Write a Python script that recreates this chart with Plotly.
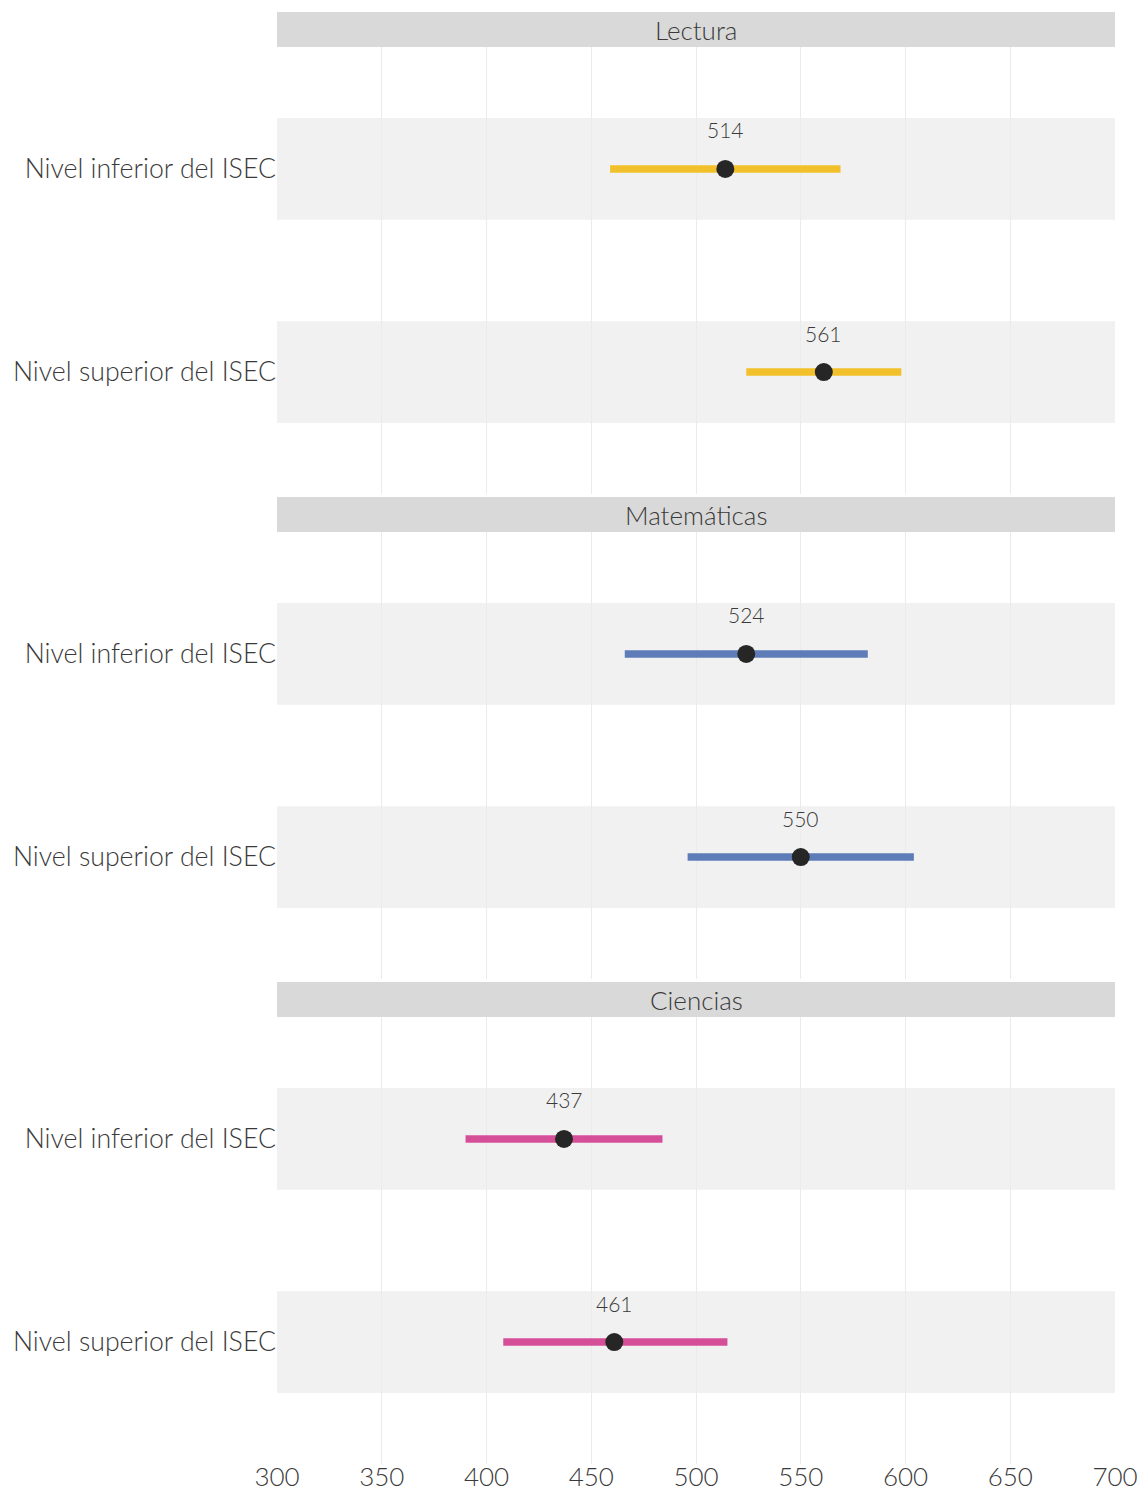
import plotly.graph_objects as go

# Scores by subject and socio-economic level (ISEC), with interval bounds
subjects = ["Lectura", "Matemáticas", "Ciencias"]
levels = ["Nivel inferior del ISEC", "Nivel superior del ISEC"]
means = [[514, 561], [524, 550], [437, 461]]
lows = [[459, 524], [466, 496], [390, 408]]
highs = [[569, 598], [582, 604], [484, 515]]
colors = ["#F1C02A", "#5E7CB7", "#D44F98"]

x_ticks = [300, 350, 400, 450, 500, 550, 600, 650, 700]

W, H = 1137, 1492
M_T, M_B, M_L, M_R = 12, 28, 277, 22
plot_h = H - M_T - M_B

def py(px):
    # pixel row (from top) -> paper fraction
    return (H - M_B - px) / plot_h

# panel rows (strip top, panel top, panel bottom) in pixels
panels = [(12, 47, 494), (497, 532, 979), (982, 1017, 1464)]

FONT = "Lato"
TXT = "#3a3a3a"

fig = go.Figure()
shapes = []
annotations = []

for i, subj in enumerate(subjects):
    ax = "" if i == 0 else str(i + 1)
    xref, yref = "x" + ax, "y" + ax
    strip_top, p_top, p_bot = panels[i]

    # background bands behind each category
    for j in range(len(levels)):
        shapes.append(dict(type="rect", xref=xref + " domain", yref=yref,
                           x0=0, x1=1, y0=j - 0.25, y1=j + 0.25,
                           fillcolor="#F1F1F1", line_width=0, layer="below"))

    # interval lines
    for j, lev in enumerate(levels):
        fig.add_trace(go.Scatter(
            x=[lows[i][j], highs[i][j]], y=[j, j], mode="lines",
            line=dict(color=colors[i], width=7.5),
            xaxis=xref, yaxis=yref, showlegend=False, hoverinfo="skip"))

    # point estimates
    fig.add_trace(go.Scatter(
        x=means[i], y=list(range(len(levels))), mode="markers",
        marker=dict(color="#262626", size=18),
        xaxis=xref, yaxis=yref, showlegend=False))

    # value labels above the points
    for j, v in enumerate(means[i]):
        annotations.append(dict(text=str(v), xref=xref, yref=yref, x=v, y=j,
                                yshift=39, showarrow=False,
                                xanchor="center", yanchor="middle",
                                font=dict(family=FONT, size=21, color=TXT, weight=300)))

    # facet strip
    shapes.append(dict(type="rect", xref="paper", yref="paper",
                       x0=0, x1=1, y0=py(p_top), y1=py(strip_top),
                       fillcolor="#D9D9D9", line_width=0))
    annotations.append(dict(text=subj, xref="paper", yref="paper",
                            x=0.5, y=(py(p_top) + py(strip_top)) / 2,
                            showarrow=False, xanchor="center", yanchor="middle",
                            font=dict(family=FONT, size=26, color=TXT, weight=300)))

    fig.update_layout(**{
        "xaxis" + ax: dict(
            domain=[0, 1], range=[300, 700], tickvals=x_ticks,
            showticklabels=(i == 2), anchor=yref, automargin=False,
            ticklabeloverflow="allow", ticklabelstandoff=-5,
            showgrid=True, gridcolor="#EBEBEB", gridwidth=1,
            zeroline=False, showline=False, ticks="",
            tickfont=dict(family=FONT, size=26, color=TXT, weight=300),
            matches=None if i == 0 else "x"),
        "yaxis" + ax: dict(
            domain=[py(p_bot), py(p_top)], range=[1.6, -0.6],
            tickvals=list(range(len(levels))), ticktext=levels,
            showgrid=False, zeroline=False, showline=False, ticks="",
            ticklabelstandoff=0, anchor=xref, automargin=False,
            tickfont=dict(family=FONT, size=26.7, color=TXT, weight=300)),
    })

fig.update_layout(
    width=W, height=H,
    margin=dict(l=M_L, r=M_R, t=M_T, b=M_B),
    paper_bgcolor="white", plot_bgcolor="white",
    shapes=shapes, annotations=annotations,
    showlegend=False,
)

fig.write_html("out.html")
